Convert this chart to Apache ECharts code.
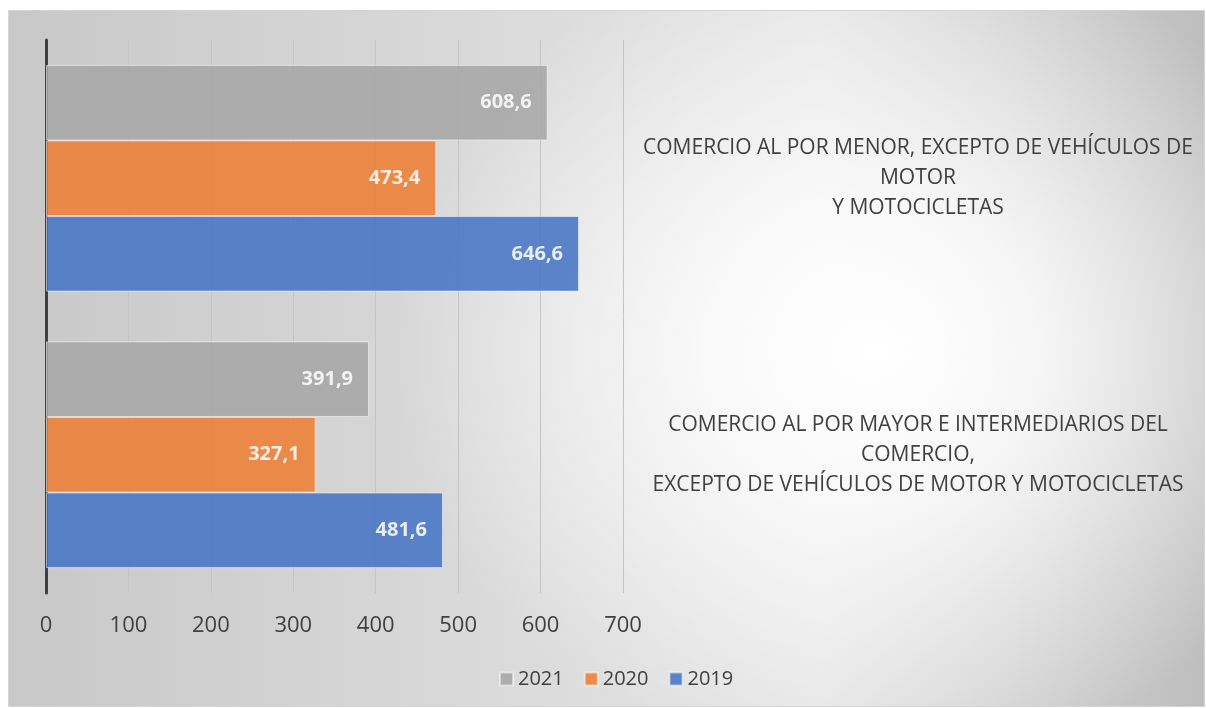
<!DOCTYPE html>
<html lang="es">
<head>
	<meta charset="UTF-8">
	<title>Comercio</title>
	<style type="text/css">
		body{ margin: 0; background: #fff; }
		#box{
			position: absolute; left: 8px; top: 10px;
			width: 1195px; height: 695px;
			border: 1px solid #d4d4d4;
			background:
				radial-gradient(ellipse 480px 420px at 865px 340px, rgba(255,255,255,1) 0%, rgba(255,255,255,0.8) 35%, rgba(255,255,255,0) 100%),
				linear-gradient(to right, #c8c8c8 0%, #dcdcdc 45%, #e4e4e4 68%, #bebebe 100%);
		}
		#main{
			position: absolute; left: 0; top: 0;
			width: 1206px; height: 708px;
		}
	</style>
	<script type="text/javascript" src="https://cdn.jsdelivr.net/npm/echarts@6/dist/echarts.min.js"></script>
</head>
<body>
	<div id="box"></div>
	<div id="main"></div>

	<script type="text/javascript">
		// categories, bottom to top as echarts draws them
		var categories = [
			'COMERCIO AL POR MAYOR E INTERMEDIARIOS DEL\nCOMERCIO,\nEXCEPTO DE VEHÍCULOS DE MOTOR Y MOTOCICLETAS',
			'COMERCIO AL POR MENOR, EXCEPTO DE VEHÍCULOS DE\nMOTOR\nY MOTOCICLETAS'
		];
		// first series is drawn on top of each group
		var years = ['2021', '2020', '2019'];
		var data2021 = [391.9, 608.6];
		var data2020 = [327.1, 473.4];
		var data2019 = [481.6, 646.6];
		var colors = ['#a5a5a5', '#ed7d31', '#4472c4'];

		var chart = echarts.init(document.getElementById('main'));

		var font = 'Open Sans';
		var values = [data2021, data2020, data2019];
		var series = years.map(function(y, i) {
			return {
				name: y,
				type: 'bar',
				yAxisIndex: 0,
				barGap: '0%',
				barCategoryGap: '18%',
				itemStyle: {
					color: colors[i],
					opacity: 0.86,
					borderColor: 'rgba(255,255,255,0.6)',
					borderWidth: 1
				},
				label: {
					show: true,
					position: 'insideRight',
					distance: 16,
					color: '#fff',
					fontFamily: font,
					fontWeight: 'bold',
					fontSize: 20,
					formatter: function(p) {
						return p.value.toFixed(1).replace('.', ',');
					}
				},
				data: values[i]
			};
		});

		chart.setOption({
			backgroundColor: 'transparent',
			color: colors,
			textStyle: { fontFamily: font },
			grid: { left: 46, right: 583, top: 40, bottom: 115 },
			legend: {
				data: years,
				left: 494,
				top: 664,
				itemWidth: 13,
				itemHeight: 13,
				itemGap: 20,
				icon: 'rect',
				textStyle: { fontFamily: font, fontSize: 20, color: '#404040' }
			},
			xAxis: {
				type: 'value',
				min: 0,
				max: 700,
				interval: 100,
				axisLine: { show: false },
				axisTick: { show: false },
				splitLine: { lineStyle: { color: '#c4c4c4', width: 1 } },
				axisLabel: { margin: 22, fontSize: 22, color: '#404040', fontFamily: font }
			},
			yAxis: [{
				type: 'category',
				data: categories,
				position: 'left',
				axisLine: { show: true, lineStyle: { color: '#404040', width: 3 } },
				axisTick: { show: false },
				axisLabel: { show: false }
			}, {
				type: 'category',
				data: categories,
				position: 'right',
				axisLine: { show: false },
				axisTick: { show: false },
				axisLabel: {
					margin: 295,
					align: 'center',
					fontSize: 21,
					lineHeight: 30,
					color: '#404040',
					fontFamily: font
				}
			}],
			series: series
		});
	</script>
</body>
</html>
